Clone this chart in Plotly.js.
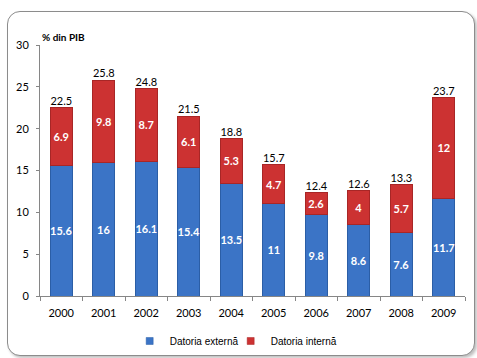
<!DOCTYPE html>
<html><head><meta charset="utf-8">
<script src="https://cdn.plot.ly/plotly-3.0.1.min.js"></script>
<style>
html,body{margin:0;padding:0;background:#fff;}
#frame{position:absolute;left:7px;top:11px;width:466px;height:343px;border:1px solid #8c8c8c;border-radius:13px;box-shadow:2px 2px 3px rgba(0,0,0,0.25);background:#fff;}
#chart{position:absolute;left:0;top:0;width:477px;height:358px;}
</style></head>
<body>
<div id="frame"></div>
<div id="chart"></div>
<script>
const years = ['2000','2001','2002','2003','2004','2005','2006','2007','2008','2009'];
const externa = [15.6,16,16.1,15.4,13.5,11,9.8,8.6,7.6,11.7];
const interna = [6.9,9.8,8.7,6.1,5.3,4.7,2.6,4,5.7,12];
const totals = [22.5,25.8,24.8,21.5,18.8,15.7,12.4,12.6,13.3,23.7];
const yTicks = [0,5,10,15,20,25,30];
const seriesNames = ['Datoria externă','Datoria internă'];
const blue = '#3b74c6', red = '#cc3232';

const lblFont = {family:'Lato, "Open Sans", sans-serif', size:11, color:'#ffffff', weight:'bold'};
const traces = [
 {type:'bar', name:seriesNames[0], x:years, y:externa, text:externa.map(String), showlegend:false,
  textposition:'inside', insidetextanchor:'middle', textangle:0, constraintext:'none',
  textfont:lblFont, marker:{color:blue, line:{color:'#2b5ea6', width:1}}, hoverinfo:'none'},
 {type:'bar', name:seriesNames[1], x:years, y:interna, text:interna.map(String), showlegend:false,
  textposition:'inside', insidetextanchor:'middle', textangle:0, constraintext:'none',
  textfont:lblFont, marker:{color:red, line:{color:'#a82626', width:1}}, hoverinfo:'none'},
 {type:'scatter', mode:'text', x:years, y:totals, text:totals.map(String), textposition:'top center',
  textfont:{family:'Lato, "Open Sans", sans-serif', size:11, color:'#000'}, showlegend:false, hoverinfo:'none', cliponaxis:false},
 {type:'scatter', mode:'markers', name:seriesNames[0], x:[null], y:[null], marker:{symbol:'square', size:7, color:blue, line:{color:'#2b5ea6',width:0.5}}, hoverinfo:'none'},
 {type:'scatter', mode:'markers', name:seriesNames[1], x:[null], y:[null], marker:{symbol:'square', size:7, color:red, line:{color:'#a82626',width:0.5}}, hoverinfo:'none'},
 {type:'scatter', mode:'markers', name:' ', x:[null], y:[null], marker:{symbol:'square', size:7, color:'rgba(0,0,0,0)'}, hoverinfo:'none'}
];
const layout = {
 width:477, height:358, paper_bgcolor:'rgba(0,0,0,0)', plot_bgcolor:'rgba(0,0,0,0)',
 margin:{l:40, r:12, t:45, b:62, autoexpand:false},
 barmode:'stack', bargap:0.48,
 font:{family:'Lato, "Open Sans", sans-serif', size:11, color:'#000'},
 xaxis:{type:'category', showline:true, linecolor:'#868686', linewidth:1, ticks:'outside', tickson:'boundaries',
   ticklen:4, tickcolor:'#868686', ticklabelstandoff:7, tickfont:{size:11, family:'Lato, sans-serif'}, showgrid:false, automargin:false},
 yaxis:{range:[0,30], tickvals:yTicks, showline:true, linecolor:'#868686', linewidth:1, ticks:'outside', ticklen:3,
   tickcolor:'#868686', ticklabelstandoff:5, showgrid:false, zeroline:false, tickfont:{size:11, family:'Lato, sans-serif'}, automargin:false},
 legend:{orientation:'h', x:0.211, xanchor:'left', yref:'container', y:0.0475, yanchor:'middle',
   font:{family:'"Liberation Sans", Arial, sans-serif', size:10}, traceorder:'normal', itemwidth:30, entrywidth:56},
 annotations:[{text:'<b>% din PIB</b>', xref:'paper', yref:'paper', x:0, y:1, xanchor:'left', yanchor:'bottom',
   showarrow:false, font:{size:10, family:'Lato, sans-serif'}}]
};
Plotly.newPlot('chart', traces, layout, {staticPlot:true, displayModeBar:false});
</script>
</body></html>
